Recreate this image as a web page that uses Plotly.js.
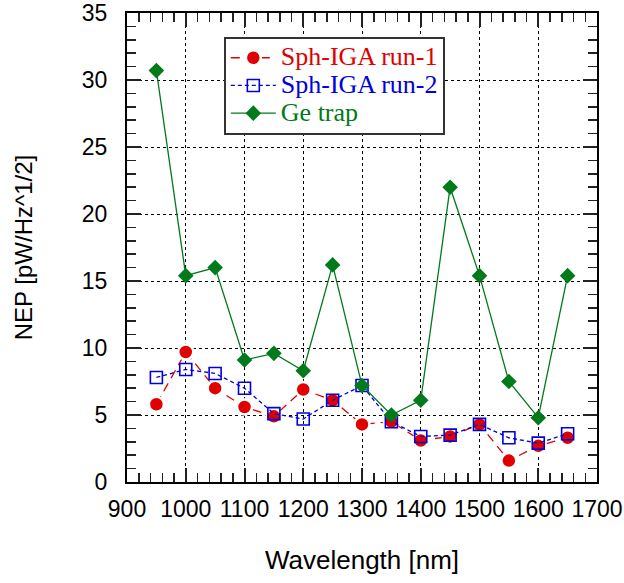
<!DOCTYPE html>
<html><head><meta charset="utf-8">
<script src="https://cdn.plot.ly/plotly-3.0.1.min.js"></script>
<style>html,body{margin:0;padding:0;background:#fff}#chart{width:624px;height:583px}</style>
</head><body><div id="chart"></div>
<script>
const wavelength = [950,1000,1050,1100,1150,1200,1250,1300,1350,1400,1450,1500,1550,1600,1650];
const run1 = [5.8,9.7,7.0,5.6,4.9,6.9,6.1,4.3,4.5,3.1,3.4,4.3,1.6,2.7,3.3];
const run2 = [7.8,8.4,8.1,7.0,5.1,4.7,6.1,7.2,4.5,3.4,3.5,4.3,3.3,2.9,3.6];
const geTrap = [30.7,15.4,16.0,9.1,9.6,8.3,16.2,7.2,5.0,6.1,22.0,15.4,7.5,4.8,15.4];
const names = ["Sph-IGA run-1","Sph-IGA run-2","Ge trap"];
const colors = ["#e00000","#0000e0","#007a1a"];

const lbl = (n, c) => `<span style="color:${c};font-size:26px">${n}</span>`;

const traces = [
  {x: wavelength, y: run1, name: lbl(names[0], colors[0]), mode:'lines+markers',
   line:{color:colors[0], width:1.3, dash:'9px,6px'}, marker:{symbol:'circle', size:15, color:colors[0], line:{color:'#fff', width:2.5}}},
  {x: wavelength, y: run2, name: lbl(names[1], colors[1]), mode:'lines+markers',
   line:{color:colors[1], width:1.3, dash:'4px,3px'}, marker:{symbol:'square-open', size:12, color:colors[1], line:{width:1.6, color:colors[1]}}},
  {x: wavelength, y: geTrap, name: lbl(names[2], colors[2]), mode:'lines+markers',
   line:{color:colors[2], width:1.3}, marker:{symbol:'diamond', size:12, color:colors[2]}}
];

const axisCommon = {
  showline:true, linecolor:'#000', linewidth:2, mirror:'allticks',
  ticks:'inside', ticklen:14, tickwidth:2, tickcolor:'#222',
  showgrid:true, gridcolor:'#000', gridwidth:1, griddash:'dot',
  zeroline:false,
  tickfont:{family:'Liberation Sans, Arial, sans-serif', size:23, color:'#000'},
  minor:{ticks:'inside', ticklen:9, tickwidth:1.5, tickcolor:'#222', showgrid:false}
};

const layout = {
  width:624, height:583,
  margin:{l:127, r:27, t:13, b:101},
  paper_bgcolor:'#fff', plot_bgcolor:'#fff',
  showlegend:true,
  legend:{x:0.206, y:0.949, xanchor:'left', yanchor:'top',
    bgcolor:'#fff', bordercolor:'#333', borderwidth:2,
    font:{family:'Liberation Serif, Times New Roman, serif', size:19},
    tracegroupgap:0, itemwidth:45},
  xaxis: Object.assign({}, axisCommon, {
    range:[900,1700], dtick:100, tick0:900, ticklabelstandoff:5,
    minor:Object.assign({}, axisCommon.minor, {dtick:20}),
    title:{text:'Wavelength [nm]', font:{family:'Liberation Sans, Arial, sans-serif', size:26, color:'#000'}, standoff:30}
  }),
  yaxis: Object.assign({}, axisCommon, {
    range:[0,35], dtick:5, tick0:0, ticklabelstandoff:13,
    minor:Object.assign({}, axisCommon.minor, {dtick:1}),
    title:{text:'NEP [pW/Hz^1/2]', font:{family:'Liberation Sans, Arial, sans-serif', size:24, color:'#000'}, standoff:42}
  })
};

Plotly.newPlot('chart', traces, layout, {displayModeBar:false, staticPlot:true});
</script></body></html>
